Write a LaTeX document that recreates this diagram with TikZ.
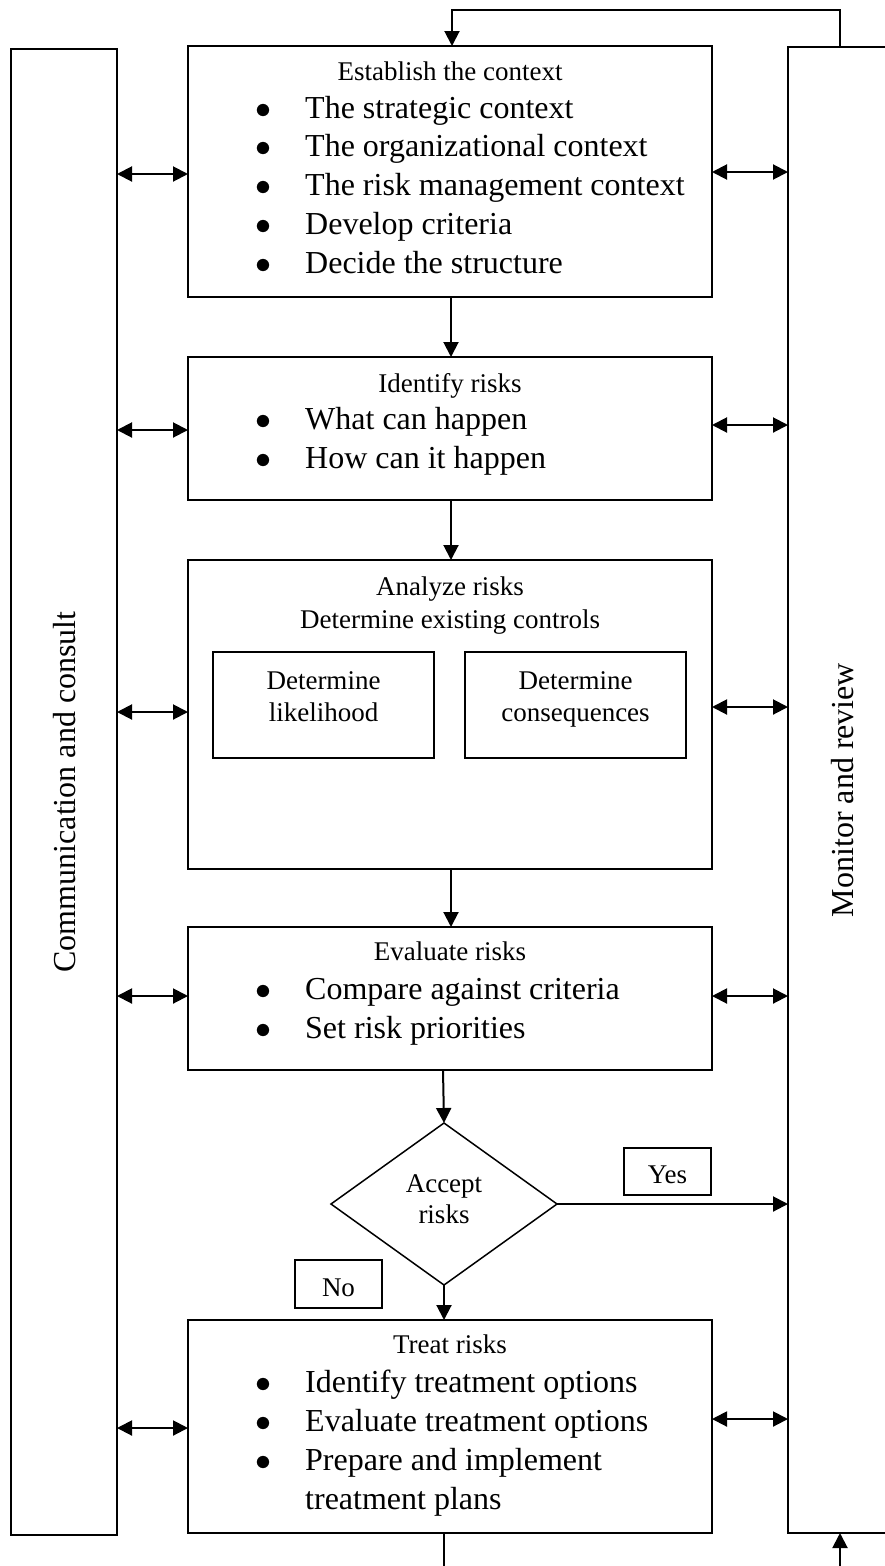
\RequirePackage{fix-cm}
\documentclass[tikz,border=0pt]{standalone}
\usepackage{fontspec}
\setmainfont{Liberation Serif}
\usetikzlibrary{arrows.meta,shapes.geometric}
\newcommand\fhead{\fontsize{27}{32}\selectfont}
\newcommand\fbody{\fontsize{32}{38}\selectfont}
\newcommand\bul{\makebox[50pt][l]{$\bullet$}}
\begin{document}
\begin{tikzpicture}[x=1pt,y=-1pt,
 box/.style={draw,line width=1.5pt,inner sep=0pt,outer sep=0pt},
 hd/.style={anchor=base,inner sep=0pt,font=\fhead},
 bl/.style={anchor=base west,inner sep=0pt,font=\fbody},
 tip/.style={},
 arr/.style={line width=2pt,-{Triangle[length=15pt,width=15pt]}},
 dbl/.style={line width=2pt,{Triangle[length=15pt,width=15pt]}-{Triangle[length=15pt,width=15pt]}},
 ln/.style={line width=2pt}]
\useasboundingbox (0,0) rectangle (885,1566);
\clip (0,0) rectangle (885,1566);

% side boxes
\node[box,minimum width=106pt,minimum height=1486pt] (comm) at (64,792) {};
\node[box,minimum width=200pt,minimum height=1486pt] (mon) at (888,790) {};
\node[rotate=90,font=\fbody,inner sep=0pt] (commt) at (65,792) {Communication and consult};
\node[rotate=90,font=\fbody,inner sep=0pt] (mont) at (843,790) {Monitor and review};

% main boxes
\node[box,minimum width=524pt,minimum height=251pt] (est) at (450,171.5) {};
\node[box,minimum width=524pt,minimum height=143pt] (id) at (450,428.5) {};
\node[box,minimum width=524pt,minimum height=309pt] (an) at (450,714.5) {};
\node[box,minimum width=221pt,minimum height=106pt] (lik) at (323.5,705) {};
\node[box,minimum width=221pt,minimum height=106pt] (con) at (575.5,705) {};
\node[box,minimum width=524pt,minimum height=143pt] (ev) at (450,998.5) {};
\node[box,diamond,minimum width=226pt,minimum height=162pt] (dia) at (444,1204) {};
\node[box,minimum width=87pt,minimum height=47pt] (yes) at (667.5,1171.5) {};
\node[box,minimum width=87pt,minimum height=48pt] (no) at (338.5,1284) {};
\node[box,minimum width=524pt,minimum height=213pt] (tr) at (450,1426.5) {};

% texts: establish
\node[hd] (esth) at (450,80) {Establish the context};
\node[bl] (est1) at (255,118) {\bul The strategic context};
\node[bl] (est2) at (255,156) {\bul The organizational context};
\node[bl] (est3) at (255,195) {\bul The risk management context};
\node[bl] (est4) at (255,234) {\bul Develop criteria};
\node[bl] (est5) at (255,273) {\bul Decide the structure};
% identify
\node[hd] (idh) at (450,392) {Identify risks};
\node[bl] (id1) at (255,429) {\bul What can happen};
\node[bl] (id2) at (255,468) {\bul How can it happen};
% analyze
\node[hd] (anh) at (450,595.5) {Analyze risks};
\node[hd] (anh2) at (450,628) {Determine existing controls};
\node[hd] (lik1) at (323.5,689) {Determine};
\node[hd] (lik2) at (323.5,721) {likelihood};
\node[hd] (con1) at (575.5,689) {Determine};
\node[hd] (con2) at (575.5,721) {consequences};
% evaluate
\node[hd] (evh) at (450,960) {Evaluate risks};
\node[bl] (ev1) at (255,999) {\bul Compare against criteria};
\node[bl] (ev2) at (255,1038) {\bul Set risk priorities};
% decision
\node[hd] (dia1) at (444,1192) {Accept};
\node[hd] (dia2) at (444,1223) {risks};
\node[hd] (yest) at (667.5,1183) {Yes};
\node[hd] (not) at (338.5,1296) {No};
% treat
\node[hd] (trh) at (450,1353) {Treat risks};
\node[bl] (tr1) at (255,1392) {\bul Identify treatment options};
\node[bl] (tr2) at (255,1431) {\bul Evaluate treatment options};
\node[bl] (tr3) at (255,1470) {\bul Prepare and implement};
\node[bl] (tr4) at (305,1509) {treatment plans};

% double arrows left
\draw[dbl] (comm.east |- 0,174) -- (est.west |- 0,174);
\draw[dbl] (comm.east |- 0,430) -- (id.west |- 0,430);
\draw[dbl] (comm.east |- 0,712) -- (an.west |- 0,712);
\draw[dbl] (comm.east |- 0,996) -- (ev.west |- 0,996);
\draw[dbl] (comm.east |- 0,1428) -- (tr.west |- 0,1428);
% double arrows right
\draw[dbl] (est.east |- 0,172) -- (mon.west |- 0,172);
\draw[dbl] (id.east |- 0,425) -- (mon.west |- 0,425);
\draw[dbl] (an.east |- 0,707) -- (mon.west |- 0,707);
\draw[dbl] (ev.east |- 0,996) -- (mon.west |- 0,996);
\draw[dbl] (tr.east |- 0,1419) -- (mon.west |- 0,1419);

% flow
\draw[arr] (est.south -| 451,0) -- (id.north -| 451,0);
\draw[arr] (id.south -| 451,0) -- (an.north -| 451,0);
\draw[arr] (an.south -| 451,0) -- (ev.north -| 451,0);
\draw[arr] (ev.south -| 443,0) -- (dia.north);
\draw[arr] (dia.south) -- (tr.north -| dia.south);
\draw[arr] (dia.east) -- (mon.west |- dia.east);

% feedback
\coordinate (fbR) at (840,10);
\coordinate (fbL) at (452,10);
\draw[arr] (mon.north -| fbR) -- (fbR) -- (fbL) -- (est.north -| fbL);
\coordinate (botL) at (444,1580);
\draw[ln] (tr.south -| botL) -- (botL);
\coordinate (botR) at (840,1580);
\draw[arr] (botR) -- (mon.south -| botR);
\end{tikzpicture}
\end{document}
